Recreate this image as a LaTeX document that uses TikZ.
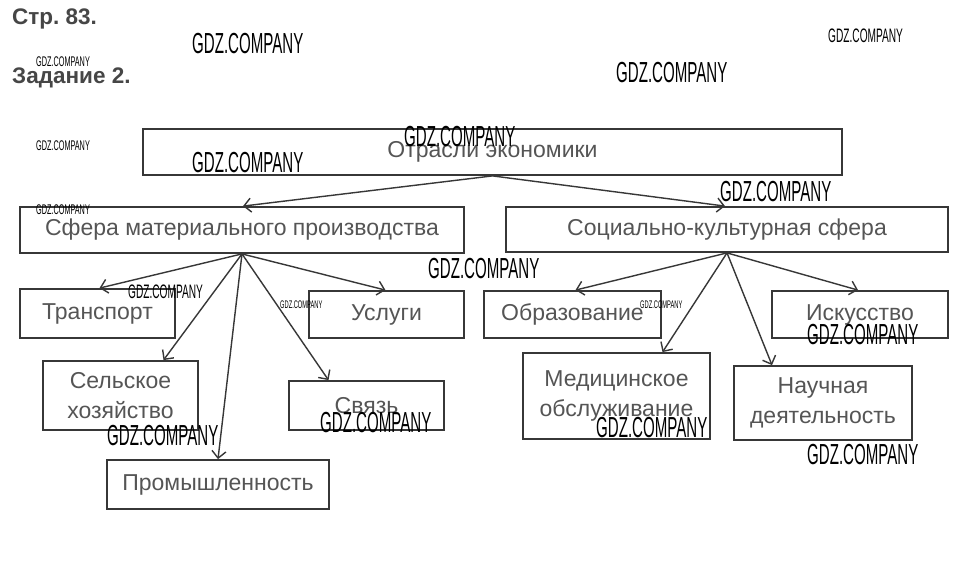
\documentclass[tikz,border=0pt]{standalone}
\usepackage{fontspec}
\setmainfont{Liberation Sans}
\usepackage{graphicx}
\usetikzlibrary{arrows.meta}
\frenchspacing
\definecolor{txt}{RGB}{85,85,85}
\definecolor{ln}{RGB}{55,55,55}
\definecolor{hdr}{RGB}{70,70,70}
\newcommand{\wmark}[1]{\scalebox{0.52}[1]{\fontsize{#1}{#1}\selectfont GDZ.COMPANY}}
\begin{document}
\begin{tikzpicture}[x=1pt,y=-1pt,
  box/.style={draw=ln, line width=1.8pt, inner sep=0pt, font=\fontsize{23}{30}\selectfont, text=txt, align=center},
  arr/.style={draw=ln, line width=1.4pt, -{Straight Barb[length=7pt,width=14pt]}},
  hd/.style={anchor=base west, inner sep=0pt, text=hdr, font=\fontsize{22.5}{22.5}\selectfont\bfseries},
  wm/.style={anchor=base west, inner sep=0pt, text=black}]
\path[use as bounding box, fill=white] (0,0) rectangle (960,571);

% headers
\node[hd] (h1) at (12,24) {Стр. 83.};
\node[hd] (h2) at (12,83) {Задание 2.};

% boxes
\node[box, minimum width=699pt, minimum height=46pt] (root) at (492.5,152) {Отрасли экономики};
\node[box, minimum width=444pt, minimum height=46pt] (sm) at (242,230) {Сфера материального производства};
\node[box, minimum width=442pt, minimum height=45pt] (soc) at (727,229.5) {Социально-культурная сфера};

\node[box, minimum width=155pt, minimum height=49pt] (tr) at (97.5,313.5) {Транспорт};
\node[box, minimum width=155pt, minimum height=47pt] (us) at (386.5,314.5) {Услуги};
\node[box, minimum width=155pt, minimum height=69pt] (sel) at (120.5,395.5) {Сельское\\хозяйство};
\node[box, minimum width=155pt, minimum height=49pt] (sv) at (366.5,405.5) {Связь};
\node[box, minimum width=222pt, minimum height=49pt] (pr) at (218,484.5) {Промышленность};

\node[box, minimum width=177pt, minimum height=47pt] (ob) at (572.5,314.5) {Образование};
\node[box, minimum width=176pt, minimum height=47pt] (is) at (860,314.5) {Искусство};
\node[box, minimum width=187pt, minimum height=86pt] (med) at (616.5,396) {Медицинское\\обслуживание};
\node[box, minimum width=178pt, minimum height=74pt] (nau) at (823,403) {Научная\\деятельность};

% arrows
\draw[arr] (root.south) -- ([xshift=1pt]sm.north);
\draw[arr] (root.south) -- ([xshift=-2pt]soc.north);

\draw[arr] (sm.south) -- ([xshift=2pt]tr.north);
\draw[arr] (sm.south) -- ([xshift=-1pt]us.north);
\draw[arr] (sm.south) -- ([xshift=43pt]sel.north);
\draw[arr] (sm.south) -- ([xshift=-38pt]sv.north);
\draw[arr] (sm.south) -- (pr.north);

\draw[arr] (soc.south) -- ([xshift=3pt]ob.north);
\draw[arr] (soc.south) -- ([xshift=-2pt]is.north);
\draw[arr] (soc.south) -- ([xshift=46pt]med.north);
\draw[arr] (soc.south) -- ([xshift=-51pt]nau.north);

% watermarks
\node[wm] (w1) at (192,53) {\wmark{29}};
\node[wm] (w2) at (828,42) {\wmark{19.5}};
\node[wm] (w3) at (36,66) {\wmark{14}};
\node[wm] (w4) at (616,82) {\wmark{29}};
\node[wm] (w5) at (404,146) {\wmark{29}};
\node[wm] (w6) at (36,150) {\wmark{14}};
\node[wm] (w7) at (192,172) {\wmark{29}};
\node[wm] (w8) at (720,201) {\wmark{29}};
\node[wm] (w9) at (36,214) {\wmark{14}};
\node[wm] (w10) at (428,278) {\wmark{29}};
\node[wm] (w11) at (128,298) {\wmark{19.5}};
\node[wm] (w12) at (280,308) {\wmark{11}};
\node[wm] (w13) at (640,308) {\wmark{11}};
\node[wm] (w14) at (807,344) {\wmark{29}};
\node[wm] (w15) at (107,445) {\wmark{29}};
\node[wm] (w16) at (320,432) {\wmark{29}};
\node[wm] (w17) at (596,437) {\wmark{29}};
\node[wm] (w18) at (807,464) {\wmark{29}};
\end{tikzpicture}
\end{document}
